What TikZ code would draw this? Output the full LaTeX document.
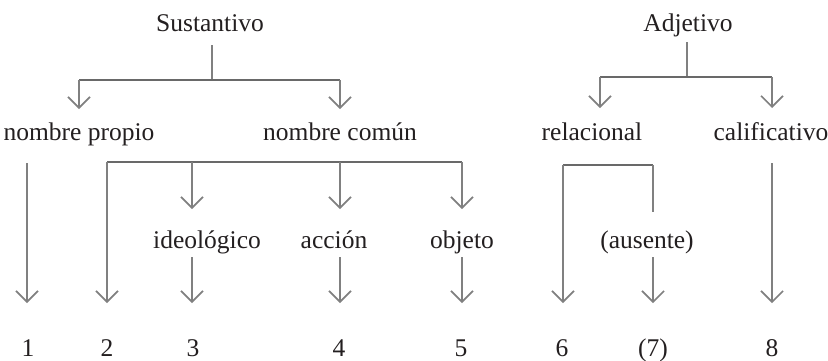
\documentclass[tikz,border=0pt]{standalone}
\usepackage{fontspec}
\setmainfont{Liberation Serif}
\usetikzlibrary{arrows.meta}
\definecolor{ln}{RGB}{128,128,128}
\definecolor{lnd}{RGB}{105,105,105}
\definecolor{txt}{RGB}{35,31,32}
\begin{document}
\begin{tikzpicture}[x=1pt,y=-1pt,
  lbl/.style={anchor=base,inner sep=0pt,text=txt,font=\fontsize{25.5}{30}\selectfont},
  conn/.style={draw=ln,line width=2.2pt},
  hconn/.style={draw=lnd,line width=2.2pt},
  arr/.style={conn,-{Straight Barb[length=11pt,width=22pt,line width=1.6pt]}}]
\useasboundingbox (0,0) rectangle (828,360);
% labels
\node[lbl] (sust) at (210,31) {Sustantivo};
\node[lbl] (adj) at (688,31) {Adjetivo};
\node[lbl] (np) at (79,140) {nombre propio};
\node[lbl] (nc) at (340,140) {nombre común};
\node[lbl] (rel) at (592,140) {relacional};
\node[lbl] (cal) at (771,140) {calificativo};
\node[lbl] (ide) at (207,248) {ideológico};
\node[lbl] (acc) at (334,248) {acción};
\node[lbl] (obj) at (462,248) {objeto};
\node[lbl] (aus) at (647,248) {(ausente)};
\node[lbl] (n1) at (28,356) {1};
\node[lbl] (n2) at (107,356) {2};
\node[lbl] (n3) at (193,356) {3};
\node[lbl] (n4) at (339,356) {4};
\node[lbl] (n5) at (461,356) {5};
\node[lbl] (n6) at (562,356) {6};
\node[lbl] (n7) at (653,356) {(7)};
\node[lbl] (n8) at (772,356) {8};
% junction coordinates
\coordinate (s0) at (212,45);
\coordinate (s1) at (212,80);
\coordinate (sl) at (79,80);
\coordinate (sr) at (340,80);
\coordinate (tnp) at (79,109);
\coordinate (tnc) at (340,109);
\coordinate (a0) at (687,42);
\coordinate (a1) at (687,77);
\coordinate (al) at (600,77);
\coordinate (ar) at (772,77);
\coordinate (trel) at (600,108);
\coordinate (tcal) at (772,108);
% row 2 coordinates
\coordinate (p0) at (27,163);
\coordinate (cl) at (107,162);
\coordinate (c3) at (192,162);
\coordinate (c4) at (340,162);
\coordinate (cr) at (462,162);
\coordinate (tide) at (192,209);
\coordinate (tacc) at (340,209);
\coordinate (tobj) at (462,209);
\coordinate (rl) at (563,165);
\coordinate (rr) at (653,165);
\coordinate (re) at (653,212);
\coordinate (k0) at (772,163);
% bottom segment starts
\coordinate (b3) at (192,257);
\coordinate (b4) at (340,257);
\coordinate (b5) at (462,257);
\coordinate (b7) at (653,257);
% bottom tips
\coordinate (t1) at (27,303);
\coordinate (t2) at (107,303);
\coordinate (t3) at (192,303);
\coordinate (t4) at (340,303);
\coordinate (t5) at (462,303);
\coordinate (t6) at (563,303);
\coordinate (t7) at (653,303);
\coordinate (t8) at (772,303);
% top trees
\draw[conn] (s0) -- (s1);
\draw[hconn] (sl) -- (sr);
\draw[arr] (sl) -- (tnp);
\draw[arr] (sr) -- (tnc);
\draw[conn] (a0) -- (a1);
\draw[hconn] (al) -- (ar);
\draw[arr] (al) -- (trel);
\draw[arr] (ar) -- (tcal);
% nombre propio
\draw[arr] (p0) -- (t1);
% nombre comun
\draw[hconn] (cl) -- (cr);
\draw[arr] (cl) -- (t2);
\draw[arr] (c3) -- (tide);
\draw[arr] (c4) -- (tacc);
\draw[arr] (cr) -- (tobj);
\draw[arr] (b3) -- (t3);
\draw[arr] (b4) -- (t4);
\draw[arr] (b5) -- (t5);
% relacional
\draw[hconn] (rl) -- (rr);
\draw[arr] (rl) -- (t6);
\draw[conn] (rr) -- (re);
\draw[arr] (b7) -- (t7);
% calificativo
\draw[arr] (k0) -- (t8);
\end{tikzpicture}
\end{document}
